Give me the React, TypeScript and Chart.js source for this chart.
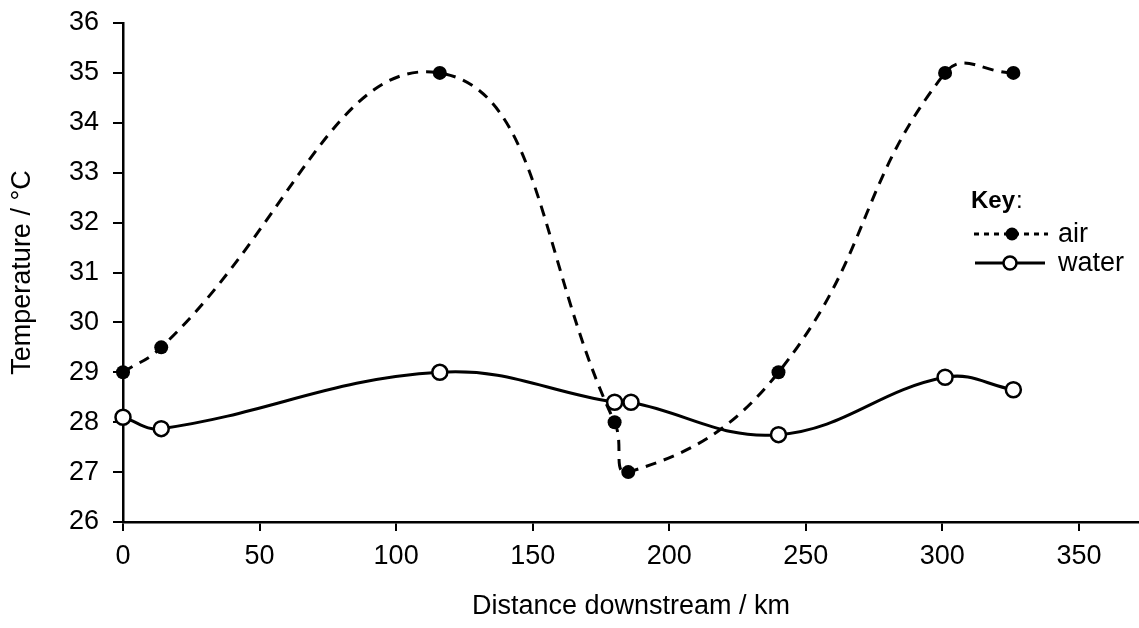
import React, { useEffect, useRef } from 'react';
import { Chart, registerables } from 'chart.js';

Chart.register(...registerables);

// ---- data ----
const airDistance = [0, 14, 116, 180, 185, 240, 301, 326];
const airTemp = [29, 29.5, 35, 28, 27, 29, 35, 35];
const waterDistance = [0, 14, 116, 180, 186, 240, 301, 326];
const waterTemp = [28.1, 27.87, 29, 28.4, 28.4, 27.75, 28.9, 28.65];
const xTickValues = [0, 50, 100, 150, 200, 250, 300, 350];
const yTickValues = [26, 27, 28, 29, 30, 31, 32, 33, 34, 35, 36];
const xTitle = 'Distance downstream / km';
const yTitle = 'Temperature / °C';
const keyTitle = 'Key';
const airLabel = 'air';
const waterLabel = 'water';

const FONT = "'Liberation Sans', Arial, Helvetica, sans-serif";

const legendPlugin = {
  id: 'keyLegend',
  afterDraw(chart: any) {
    const ctx = chart.ctx as CanvasRenderingContext2D;
    ctx.save();
    ctx.fillStyle = '#000';
    ctx.strokeStyle = '#000';
    ctx.textBaseline = 'middle';
    ctx.textAlign = 'left';
    // Key:
    ctx.font = `bold 24px ${FONT}`;
    ctx.fillText(keyTitle, 971, 201);
    const kw = ctx.measureText(keyTitle).width;
    ctx.font = `24px ${FONT}`;
    ctx.fillText(':', 971 + kw + 1, 201);
    // air row
    const yAir = 234;
    ctx.lineWidth = 3;
    ctx.setLineDash([5, 5]);
    ctx.beginPath();
    ctx.moveTo(974, yAir);
    ctx.lineTo(1048, yAir);
    ctx.stroke();
    ctx.setLineDash([]);
    ctx.beginPath();
    ctx.arc(1012, yAir, 6.5, 0, Math.PI * 2);
    ctx.fill();
    ctx.font = `27px ${FONT}`;
    ctx.fillText(airLabel, 1058, yAir + 1);
    // water row
    const yW = 263;
    ctx.lineWidth = 3;
    ctx.beginPath();
    ctx.moveTo(975, yW);
    ctx.lineTo(1045, yW);
    ctx.stroke();
    ctx.beginPath();
    ctx.arc(1010, yW, 6.5, 0, Math.PI * 2);
    ctx.fillStyle = '#fff';
    ctx.fill();
    ctx.lineWidth = 2.5;
    ctx.stroke();
    ctx.fillStyle = '#000';
    ctx.fillText(waterLabel, 1058, yW + 1);
    ctx.restore();
  },
};

export default function App() {
  const ref = useRef<HTMLCanvasElement>(null);

  useEffect(() => {
    if (!ref.current) return;
    Chart.defaults.font.family = FONT;
    const chart = new Chart(ref.current, {
      type: 'scatter',
      data: {
        datasets: [
          {
            label: airLabel,
            data: airDistance.map((x, i) => ({ x, y: airTemp[i] })),
            showLine: true,
            borderColor: '#000',
            borderWidth: 3,
            borderDash: [11, 8],
            tension: 0.45,
            pointRadius: 7,
            pointBackgroundColor: '#000',
            pointBorderColor: '#000',
            pointBorderWidth: 0,
            clip: false,
          } as any,
          {
            label: waterLabel,
            data: waterDistance.map((x, i) => ({ x, y: waterTemp[i] })),
            showLine: true,
            borderColor: '#000',
            borderWidth: 3,
            tension: 0.4,
            pointRadius: 7.5,
            pointBackgroundColor: '#fff',
            pointBorderColor: '#000',
            pointBorderWidth: 2.5,
            clip: false,
          } as any,
        ],
      },
      options: {
        responsive: false,
        animation: false,
        layout: { autoPadding: false, padding: { top: 23, right: 0, left: 0, bottom: 0 } },
        plugins: {
          legend: { display: false },
          tooltip: { enabled: false },
        },
        scales: {
          x: {
            type: 'linear',
            min: 0,
            max: 372,
            afterBuildTicks: (scale: any) => {
              scale.ticks = xTickValues.map((v) => ({ value: v }));
            },
            afterFit: (scale: any) => {
              scale.height = 106;
              scale.paddingLeft = 0;
              scale.paddingRight = 0;
            },
            border: { display: true, color: '#000', width: 2.5 },
            grid: {
              display: true,
              drawOnChartArea: false,
              drawTicks: true,
              tickLength: 9,
              color: '#000',
              lineWidth: 2,
            },
            ticks: {
              color: '#000',
              font: { size: 27 },
              padding: 9,
              maxRotation: 0,
            },
            title: {
              display: true,
              text: xTitle,
              color: '#000',
              font: { size: 27 },
              padding: { top: 0, bottom: 5 },
            },
          },
          y: {
            type: 'linear',
            min: 26,
            max: 36,
            afterBuildTicks: (scale: any) => {
              scale.ticks = yTickValues.map((v) => ({ value: v }));
            },
            afterFit: (scale: any) => {
              scale.width = 123;
              scale.paddingTop = 0;
              scale.paddingBottom = 0;
            },
            border: { display: true, color: '#000', width: 2.5 },
            grid: {
              display: true,
              drawOnChartArea: false,
              drawTicks: true,
              tickLength: 10,
              color: '#000',
              lineWidth: 2,
            },
            ticks: {
              color: '#000',
              font: { size: 27 },
              padding: 14,
            },
            title: {
              display: true,
              text: yTitle,
              color: '#000',
              font: { size: 27 },
              padding: { top: 6, bottom: 0 },
            },
          },
        },
      },
      plugins: [legendPlugin],
    } as any);
    return () => chart.destroy();
  }, []);

  return (
    <div style={{ position: 'absolute', left: 0, top: 0, width: 1139, height: 628, background: '#fff' }}>
      <canvas ref={ref} width={1139} height={628} style={{ display: 'block' }} />
    </div>
  );
}
